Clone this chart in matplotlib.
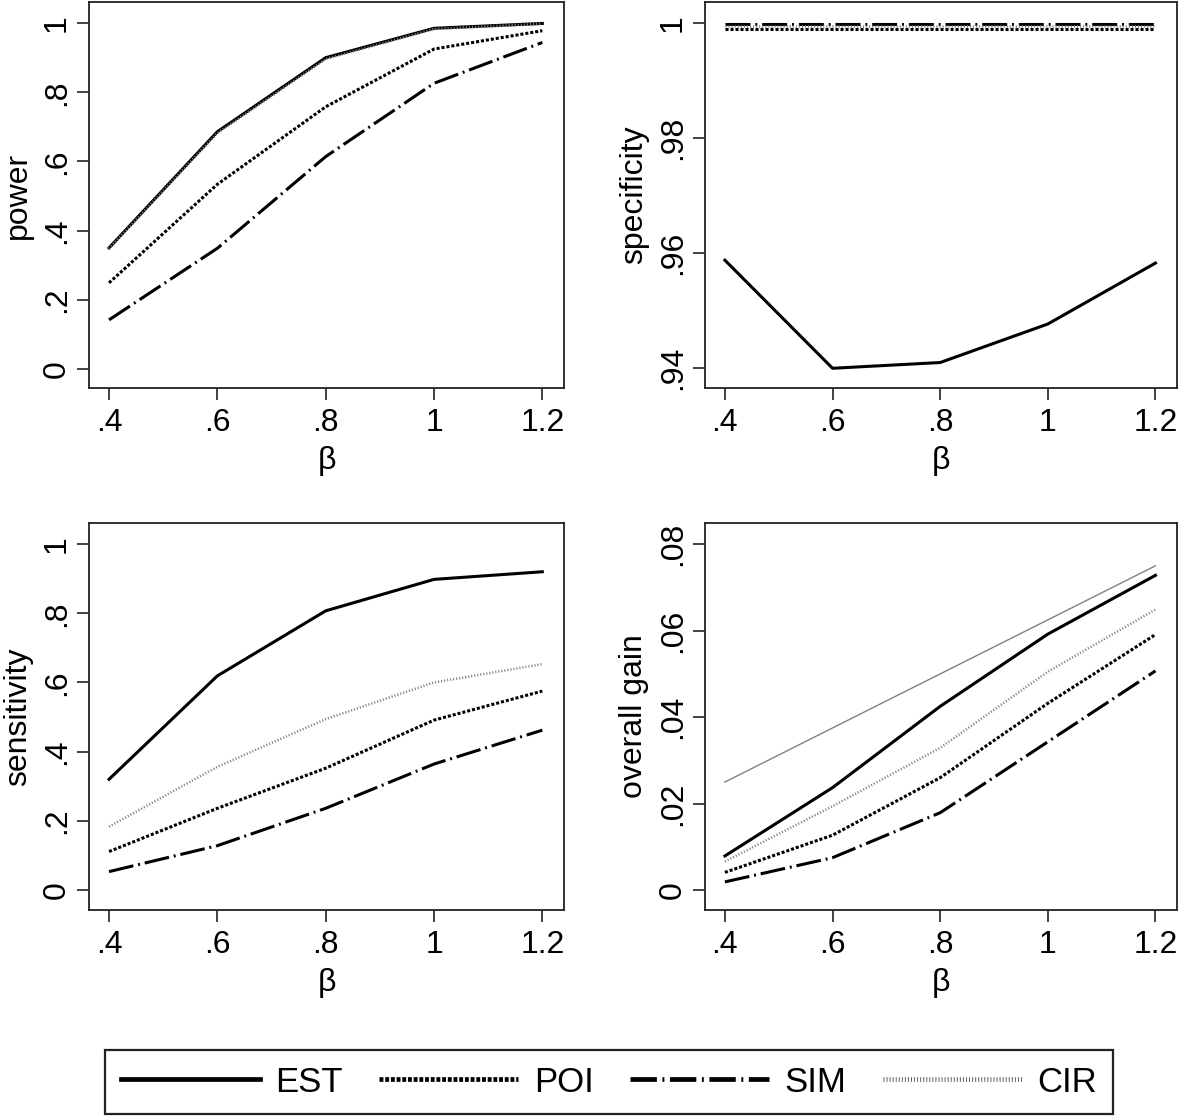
import matplotlib
matplotlib.use("Agg")
import matplotlib.pyplot as plt
from matplotlib.lines import Line2D
from matplotlib.ticker import FixedLocator, FixedFormatter

plt.rcParams['font.family'] = ['Liberation Sans', 'DejaVu Sans']
plt.rcParams['lines.scale_dashes'] = False

beta = [0.4, 0.6, 0.8, 1.0, 1.2]
beta_labels = ['.4', '.6', '.8', '1', '1.2']

# power
power_est = [0.350, 0.686, 0.900, 0.985, 0.999]
power_poi = [0.249, 0.534, 0.758, 0.925, 0.978]
power_sim = [0.142, 0.349, 0.614, 0.826, 0.944]
power_cir = [0.348, 0.682, 0.896, 0.983, 0.998]

# specificity
spec_est = [0.9588, 0.9400, 0.9410, 0.9477, 0.9583]
spec_poi = [0.9990, 0.9990, 0.9990, 0.9990, 0.9990]
spec_sim = [0.9999, 0.9999, 0.9999, 0.9999, 0.9999]
spec_cir = [0.9995, 0.9995, 0.9995, 0.9995, 0.9995]

# sensitivity
sens_est = [0.320, 0.619, 0.807, 0.898, 0.920]
sens_poi = [0.111, 0.236, 0.352, 0.491, 0.575]
sens_sim = [0.053, 0.128, 0.236, 0.364, 0.462]
sens_cir = [0.183, 0.356, 0.494, 0.600, 0.653]

# overall gain (+ thin grey reference line)
gain_est = [0.0079, 0.0237, 0.0425, 0.0592, 0.0728]
gain_poi = [0.0041, 0.0127, 0.0260, 0.0432, 0.0591]
gain_sim = [0.0019, 0.0075, 0.0179, 0.0343, 0.0507]
gain_cir = [0.0066, 0.0194, 0.0329, 0.0505, 0.0649]
gain_ref = [0.0250, 0.0375, 0.0500, 0.0625, 0.0750]

names = ['EST', 'POI', 'SIM', 'CIR']
styles = {
    'EST': dict(color='black', linestyle='-'),
    'POI': dict(color='black', linestyle=(0, (2.2, 1.4))),
    'SIM': dict(color='black', linestyle=(0, (18, 3.5, 1.4, 3.5))),
    'CIR': dict(color='#808080', linestyle=(0, (0.8, 1.4))),
}
plot_lw = {'EST': 2.2, 'POI': 2.2, 'SIM': 2.2, 'CIR': 1.8}

W, H = 1181, 1119
fig = plt.figure(figsize=(W / 100, H / 100), dpi=100)

def make_ax(x0, x1, y0, y1):
    return fig.add_axes([x0 / W, 1 - y1 / H, (x1 - x0) / W, (y1 - y0) / H])

panels = [
    (make_ax(89, 564, 2, 388), 'power',
     [power_est, power_poi, power_sim, power_cir],
     [0, .2, .4, .6, .8, 1], ['0', '.2', '.4', '.6', '.8', '1'], (-0.055, 1.061)),
    (make_ax(705, 1177, 2, 388), 'specificity',
     [spec_est, spec_poi, spec_sim, spec_cir],
     [.94, .96, .98, 1], ['.94', '.96', '.98', '1'], (0.93657, 1.0037)),
    (make_ax(89, 564, 523, 910), 'sensitivity',
     [sens_est, sens_poi, sens_sim, sens_cir],
     [0, .2, .4, .6, .8, 1], ['0', '.2', '.4', '.6', '.8', '1'], (-0.058, 1.061)),
    (make_ax(705, 1177, 523, 910), 'overall gain',
     [gain_est, gain_poi, gain_sim, gain_cir],
     [0, .02, .04, .06, .08], ['0', '.02', '.04', '.06', '.08'], (-0.0046, 0.0849)),
]

for ax, ylabel, series, yt, ytl, ylim in panels:
    if ylabel == 'overall gain':
        ax.plot(beta, gain_ref, color='#808080', lw=1.0)
    for name, ys in zip(names, series):
        ax.plot(beta, ys, lw=plot_lw[name], **styles[name])
    ax.set_xlim(0.363, 1.24)
    ax.set_ylim(*ylim)
    ax.xaxis.set_major_locator(FixedLocator(beta))
    ax.xaxis.set_major_formatter(FixedFormatter(beta_labels))
    ax.yaxis.set_major_locator(FixedLocator(yt))
    ax.yaxis.set_major_formatter(FixedFormatter(ytl))
    ax.tick_params(axis='both', labelsize=23, length=8.5, width=1.2,
                   color='#222222')
    ax.tick_params(axis='x', pad=6)
    ax.tick_params(axis='y', pad=4)
    for lab in ax.get_yticklabels():
        lab.set_rotation(90)
        lab.set_va('center')
    for s in ax.spines.values():
        s.set_linewidth(1.3)
        s.set_color('#222222')
    ax.set_xlabel('β', fontsize=23, labelpad=6)
    ax.set_ylabel(ylabel, fontsize=23)
    ax.yaxis.set_label_coords(-56 / ax.bbox.width, 0.5)

# legend handles are drawn thicker than the plot lines
leg_handles = [Line2D([], [], lw=3.4, **styles['EST']),
               Line2D([], [], lw=3.4, color='black', linestyle=(0, (2.8, 1.3))),
               Line2D([], [], lw=3.4, color='black', linestyle=(0, (19, 4, 1.4, 4))),
               Line2D([], [], lw=3.4, color='#606060', linestyle=(0, (0.7, 1.5)))]

leg = fig.legend(leg_handles, names, loc='center', ncol=4,
                 bbox_to_anchor=(609 / W, 1 - 1082 / H),
                 fontsize=25, handlelength=4.0, handletextpad=0.45,
                 columnspacing=1.05, fancybox=False, edgecolor='#222222',
                 borderpad=0.45, framealpha=1)
leg.get_frame().set_linewidth(1.6)

fig.savefig('out.png', dpi=100)
